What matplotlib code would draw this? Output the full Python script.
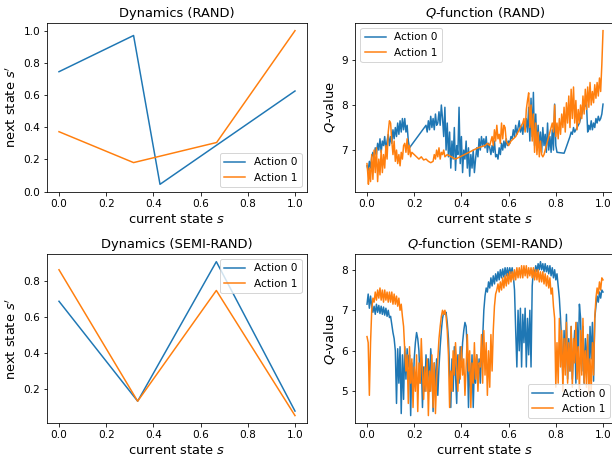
import numpy as np
import matplotlib
matplotlib.use('Agg')
import matplotlib.pyplot as plt
import matplotlib.ticker as mtick

################ data ################
# Dynamics (RAND): breakpoints of the piecewise linear transition maps
rand_dyn_s0 = [0.0, 0.316, 0.428, 1.0]
rand_dyn_a0 = [0.745, 0.970, 0.045, 0.625]
rand_dyn_s1 = [0.0, 0.316, 0.668, 1.0]
rand_dyn_a1 = [0.372, 0.180, 0.305, 1.0]

# Dynamics (SEMI-RAND)
semi_dyn_s = [0.0, 1/3, 2/3, 1.0]
semi_dyn_a0 = [0.690, 0.135, 0.910, 0.080]
semi_dyn_a1 = [0.865, 0.135, 0.750, 0.055]

# Q-function (RAND), visited states are not evenly spaced
rand_q_s0 = [0.0, 0.005, 0.01, 0.015, 0.02, 0.025, 0.03, 0.035, 0.04, 0.045,
             0.05, 0.055, 0.06, 0.065, 0.07, 0.075, 0.08, 0.085, 0.09, 0.095,
             0.1, 0.105, 0.11, 0.115, 0.12, 0.125, 0.13, 0.135, 0.14, 0.145,
             0.15, 0.155, 0.16, 0.165, 0.17, 0.175, 0.18, 0.25, 0.255, 0.26,
             0.265, 0.27, 0.275, 0.28, 0.285, 0.29, 0.295, 0.3, 0.305, 0.31,
             0.315, 0.32, 0.325, 0.33, 0.335, 0.34, 0.345, 0.35, 0.355, 0.36,
             0.365, 0.37, 0.375, 0.38, 0.385, 0.39, 0.395, 0.4, 0.405, 0.41,
             0.415, 0.42, 0.425, 0.43, 0.435, 0.44, 0.445, 0.45, 0.455, 0.46,
             0.465, 0.47, 0.475, 0.48, 0.485, 0.49, 0.495, 0.5, 0.505, 0.51,
             0.515, 0.52, 0.525, 0.53, 0.535, 0.54, 0.545, 0.55, 0.555, 0.56,
             0.565, 0.57, 0.575, 0.58, 0.585, 0.59, 0.595, 0.6, 0.605, 0.61,
             0.615, 0.62, 0.625, 0.63, 0.635, 0.64, 0.645, 0.65, 0.655, 0.66,
             0.665, 0.67, 0.675, 0.68, 0.685, 0.69, 0.695, 0.7, 0.705, 0.71,
             0.715, 0.72, 0.725, 0.73, 0.735, 0.74, 0.745, 0.75, 0.755, 0.76,
             0.765, 0.77, 0.775, 0.78, 0.785, 0.79, 0.795, 0.8, 0.805, 0.835,
             0.84, 0.85, 0.86, 0.865, 0.87, 0.875, 0.88, 0.89, 0.9, 0.905,
             0.91, 0.915, 0.92, 0.93, 0.935, 0.94, 0.945, 0.95, 0.955, 0.96,
             0.965, 0.97, 0.975, 0.98, 0.985, 0.99, 0.995, 1.0]
rand_q_a0 = [6.65, 6.55, 6.75, 6.6, 6.85, 6.95, 6.8, 7.05, 6.9, 7.15,
             7.0, 7.25, 6.95, 7.2, 7.1, 7.3, 7.0, 7.2, 7.35, 7.1,
             7.3, 7.15, 7.45, 7.25, 7.5, 7.3, 7.6, 7.35, 7.65, 7.4,
             7.7, 7.45, 7.7, 7.4, 7.55, 7.2, 7.05, 7.55, 7.4, 7.65,
             7.45, 7.75, 7.5, 7.7, 7.45, 7.8, 7.55, 7.6, 7.85, 7.55,
             8.0, 7.7, 7.3, 7.95, 7.0, 7.6, 6.85, 7.4, 6.6, 7.2,
             6.8, 7.5, 6.55, 7.1, 6.9, 7.95, 6.7, 7.3, 6.5, 7.0,
             6.8, 7.2, 6.6, 7.05, 6.42, 6.9, 6.6, 7.0, 6.5, 6.8,
             7.05, 6.85, 7.25, 7.0, 7.3, 7.1, 7.25, 7.05, 7.3, 6.95,
             7.15, 7.05, 6.9, 7.1, 6.95, 7.2, 6.85, 6.9, 6.8, 7.05,
             6.9, 7.15, 7.0, 7.2, 7.05, 7.25, 7.1, 7.2, 7.15, 7.3,
             7.25, 7.45, 7.3, 7.55, 7.35, 7.5, 7.65, 7.4, 7.55, 7.35,
             7.6, 7.45, 7.7, 7.4, 7.95, 7.2, 8.15, 7.3, 8.28, 7.1,
             7.8, 7.0, 7.55, 7.05, 7.4, 6.95, 7.5, 7.1, 7.35, 6.95,
             7.6, 7.0, 7.3, 6.95, 7.45, 7.0, 8.02, 7.1, 6.95, 6.93,
             7.0, 7.15, 7.3, 7.4, 7.35, 7.5, 7.4, 7.5, 7.6, 7.7,
             7.8, 7.9, 7.95, 8.02, 7.4, 7.55, 7.45, 7.65, 7.45, 7.6,
             7.5, 7.7, 7.6, 7.75, 7.65, 7.7, 7.8, 8.02]

rand_q_s1 = [0.0, 0.003, 0.006, 0.01, 0.015, 0.02, 0.025, 0.03, 0.035, 0.04,
             0.045, 0.05, 0.055, 0.06, 0.065, 0.07, 0.075, 0.08, 0.085, 0.09,
             0.095, 0.1, 0.105, 0.11, 0.115, 0.12, 0.125, 0.13, 0.135, 0.14,
             0.145, 0.15, 0.155, 0.16, 0.165, 0.17, 0.175, 0.18, 0.185, 0.19,
             0.2, 0.21, 0.22, 0.23, 0.24, 0.25, 0.26, 0.27, 0.28, 0.285,
             0.29, 0.295, 0.3, 0.305, 0.31, 0.315, 0.32, 0.325, 0.33, 0.34,
             0.375, 0.47, 0.5, 0.51, 0.52, 0.53, 0.535, 0.54, 0.545, 0.55,
             0.555, 0.56, 0.565, 0.57, 0.575, 0.58, 0.585, 0.59, 0.6, 0.605,
             0.61, 0.62, 0.63, 0.64, 0.65, 0.66, 0.665, 0.67, 0.675, 0.68,
             0.685, 0.69, 0.695, 0.7, 0.705, 0.71, 0.715, 0.72, 0.725, 0.73,
             0.735, 0.74, 0.745, 0.75, 0.76, 0.77, 0.78, 0.785, 0.79, 0.795,
             0.8, 0.805, 0.81, 0.815, 0.82, 0.825, 0.83, 0.835, 0.84, 0.845,
             0.85, 0.855, 0.86, 0.865, 0.87, 0.875, 0.88, 0.885, 0.89, 0.895,
             0.9, 0.905, 0.91, 0.915, 0.92, 0.925, 0.93, 0.935, 0.94, 0.945,
             0.95, 0.955, 0.96, 0.965, 0.97, 0.975, 0.98, 0.985, 0.99, 0.995,
             1.0]
rand_q_a1 = [6.7, 6.5, 6.24, 6.6, 6.3, 6.9, 6.35, 7.0, 6.5, 7.05,
             6.3, 6.8, 6.45, 7.0, 6.5, 6.9, 6.6, 7.1, 6.8, 7.4,
             7.65, 7.6, 7.2, 6.9, 7.2, 6.75, 7.0, 6.7, 6.9, 6.65,
             6.95, 6.8, 7.1, 7.15, 6.95, 7.25, 6.9, 7.1, 6.85, 6.95,
             6.9, 6.85, 6.8, 6.85, 6.78, 6.8, 6.75, 6.72, 6.75, 6.9,
             6.8, 7.0, 6.85, 7.05, 6.8, 6.95, 6.9, 7.0, 6.85, 6.9,
             6.8, 7.05, 7.1, 7.15, 7.1, 7.3, 7.1, 7.45, 7.2, 7.55,
             7.25, 7.35, 7.15, 7.6, 7.25, 7.55, 7.5, 7.2, 7.1, 7.15,
             7.2, 7.25, 7.3, 7.4, 7.5, 7.6, 7.7, 7.4, 7.9, 8.1,
             8.27, 7.5, 8.0, 7.2, 7.8, 6.95, 7.6, 6.9, 7.4, 6.85,
             7.2, 6.9, 6.85, 6.9, 7.1, 7.3, 7.5, 7.6, 7.4, 8.0,
             7.3, 7.6, 7.25, 7.7, 7.35, 7.8, 7.5, 7.95, 7.4, 8.05,
             7.6, 8.2, 7.5, 8.35, 7.7, 8.4, 7.6, 8.1, 7.45, 7.9,
             7.6, 8.0, 7.7, 8.2, 7.8, 8.35, 7.9, 8.4, 7.95, 8.5,
             8.0, 8.3, 8.05, 8.45, 8.15, 8.5, 8.2, 8.6, 8.3, 8.9,
             9.65]

# Q-function (SEMI-RAND), states on a grid of step 0.005
semi_q_s = np.linspace(0, 1, 201)
semi_q_a0 = [7.15, 7.40, 7.05, 7.35, 7.10, 6.95, 7.10, 6.90, 7.15, 6.95,
             7.12, 6.92, 7.10, 6.90, 7.08, 6.88, 7.05, 6.85, 7.00, 6.82,
             6.85, 6.65, 6.45, 6.30, 6.00, 4.70, 6.05, 5.20, 6.10, 4.45,
             5.90, 4.80, 6.10, 5.30, 6.05, 5.60, 5.90, 4.40, 5.70, 4.90,
             5.80, 6.20, 6.45, 6.30, 6.00, 5.20, 5.80, 4.60, 5.60, 5.00,
             5.90, 5.30, 5.80, 5.00, 6.05, 5.60, 4.50, 5.70, 5.10, 5.80,
             4.90, 5.60, 6.10, 6.50, 6.80, 6.95, 6.90, 6.95, 6.70, 6.30,
             5.50, 4.60, 5.80, 5.00, 6.10, 5.40, 4.70, 5.90, 5.20, 6.10,
             5.60, 6.20, 6.50, 6.70, 6.60, 6.00, 4.60, 5.70, 5.00, 5.90,
             4.60, 5.60, 5.20, 5.90, 5.30, 5.80, 5.20, 5.90, 6.30, 7.00,
             7.35, 7.55, 7.45, 7.70, 7.55, 7.80, 7.60, 7.85, 7.65, 7.90,
             7.72, 7.95, 7.75, 8.00, 7.80, 8.02, 7.82, 8.05, 7.85, 8.05,
             7.85, 8.05, 7.90, 8.05, 7.85, 7.50, 6.50, 5.60, 7.00, 6.00,
             7.05, 5.60, 6.90, 6.20, 7.05, 5.60, 6.80, 5.90, 7.00, 5.60,
             7.60, 8.00, 7.90, 8.10, 7.95, 8.15, 8.00, 8.20, 8.00, 8.15,
             7.95, 8.15, 7.95, 8.10, 7.90, 8.10, 7.85, 8.05, 7.80, 8.00,
             7.75, 7.90, 7.60, 7.30, 6.80, 6.20, 5.30, 6.50, 5.60, 6.90,
             5.30, 6.30, 5.50, 6.60, 5.30, 6.00, 6.50, 5.20, 6.70, 5.80,
             7.15, 6.80, 5.50, 6.60, 5.20, 6.30, 5.60, 6.40, 5.30, 6.60,
             5.80, 6.70, 5.25, 6.80, 7.10, 7.35, 7.20, 7.45, 7.30, 7.50,
             7.45]
semi_q_a1 = [6.35, 6.20, 4.90, 6.20, 7.00, 7.30, 7.20, 7.45, 7.25, 7.50,
             7.30, 7.55, 7.25, 7.50, 7.20, 7.50, 7.25, 7.45, 7.20, 7.45,
             7.20, 7.45, 7.15, 7.40, 7.15, 7.35, 7.10, 7.30, 7.00, 7.15,
             6.85, 6.60, 6.00, 5.50, 5.90, 4.70, 6.10, 5.20, 5.80, 4.60,
             5.60, 5.00, 5.90, 4.50, 5.70, 5.20, 6.30, 5.50, 4.80, 5.60,
             5.00, 5.80, 4.40, 5.50, 5.00, 5.90, 4.60, 5.70, 4.45, 5.30,
             5.80, 6.30, 6.60, 6.85, 7.00, 6.90, 7.00, 6.85, 6.50, 5.90,
             4.60, 5.50, 5.00, 6.00, 5.40, 6.20, 5.60, 5.00, 5.90, 5.30,
             6.10, 5.40, 5.80, 4.90, 5.60, 6.40, 5.50, 6.00, 4.60, 5.70,
             5.20, 6.20, 5.30, 5.90, 5.00, 5.70, 5.60, 6.40, 5.20, 6.50,
             5.40, 6.20, 4.90, 6.00, 5.10, 6.40, 5.50, 6.50, 7.10, 7.40,
             7.50, 7.65, 7.45, 7.70, 7.50, 7.80, 7.55, 7.85, 7.60, 7.90,
             7.65, 7.95, 7.70, 7.95, 7.75, 8.00, 7.75, 8.05, 7.80, 8.05,
             7.80, 8.10, 7.80, 8.10, 7.85, 8.10, 7.80, 8.05, 7.85, 8.05,
             7.80, 8.05, 7.75, 8.00, 7.75, 8.00, 7.70, 7.95, 7.70, 7.95,
             7.65, 7.90, 7.60, 7.85, 7.55, 7.80, 7.40, 7.55, 7.10, 6.80,
             5.10, 6.20, 5.20, 6.80, 5.60, 6.50, 5.00, 6.30, 5.40, 6.70,
             5.20, 6.20, 5.50, 6.60, 5.10, 6.30, 5.70, 6.70, 5.30, 6.10,
             5.00, 6.50, 5.40, 6.80, 5.20, 6.00, 5.10, 6.40, 4.95, 5.80,
             5.00, 6.20, 5.40, 6.80, 7.30, 7.55, 7.40, 7.70, 7.50, 7.80,
             7.75]
######################################

fig = plt.figure(figsize=(612 / 72, 458 / 72), dpi=72)

# axes boxes (left, bottom, width, height) in figure fractions
ax1 = fig.add_axes([0.0771, 0.5808, 0.4242, 0.369])
ax2 = fig.add_axes([0.5804, 0.5808, 0.4242, 0.369])
ax3 = fig.add_axes([0.0771, 0.0758, 0.4242, 0.3697])
ax4 = fig.add_axes([0.5804, 0.0758, 0.4242, 0.3697])

ax1.plot(rand_dyn_s0, rand_dyn_a0, label='Action 0')
ax1.plot(rand_dyn_s1, rand_dyn_a1, label='Action 1')
ax1.set_title('Dynamics (RAND)', fontsize=13)
ax1.set_ylabel("next state $s'$", fontsize=13)

ax2.plot(rand_q_s0, rand_q_a0, label='Action 0')
ax2.plot(rand_q_s1, rand_q_a1, label='Action 1')
ax2.set_title('$Q$-function (RAND)', fontsize=13)
ax2.set_ylabel('$Q$-value', fontsize=13)
ax2.yaxis.set_major_locator(mtick.MultipleLocator(1))

ax3.plot(semi_dyn_s, semi_dyn_a0, label='Action 0')
ax3.plot(semi_dyn_s, semi_dyn_a1, label='Action 1')
ax3.set_title('Dynamics (SEMI-RAND)', fontsize=13)
ax3.set_ylabel("next state $s'$", fontsize=13)

ax4.plot(semi_q_s, semi_q_a0, label='Action 0')
ax4.plot(semi_q_s, semi_q_a1, label='Action 1')
ax4.set_title('$Q$-function (SEMI-RAND)', fontsize=13)
ax4.set_ylabel('$Q$-value', fontsize=13)
ax4.yaxis.set_major_locator(mtick.MultipleLocator(1))

ax1.legend(loc='lower right', fontsize=10.5)
ax2.legend(loc='upper left', fontsize=10.5)
ax3.legend(loc='upper right', fontsize=10.5)
ax4.legend(loc='lower right', fontsize=10.5)

for ax in [ax1, ax2, ax3, ax4]:
    ax.set_xlabel('current state $s$', fontsize=13)
    ax.tick_params(labelsize=10.5)

fig.savefig('out.png', dpi=72)
